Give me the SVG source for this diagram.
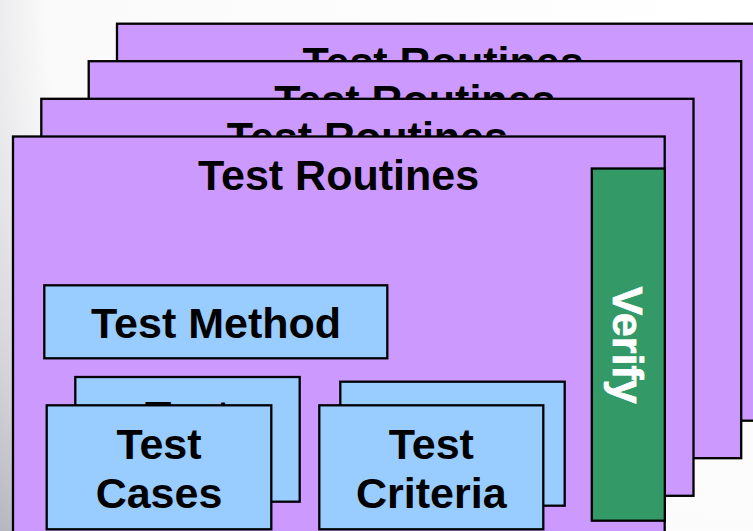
<svg xmlns="http://www.w3.org/2000/svg" width="753" height="531" viewBox="0 0 753 531">
  <defs>
    <radialGradient id="bg" gradientUnits="userSpaceOnUse" cx="753" cy="0" r="930">
      <stop offset="0" stop-color="#ffffff"/>
      <stop offset="0.76" stop-color="#fafafa"/>
      <stop offset="0.9" stop-color="#d3d3d9"/>
      <stop offset="1" stop-color="#b2b4be"/>
    </radialGradient>
  </defs>
  <style>
    .panel { fill: #cc99ff; stroke: #000; stroke-width: 2.3; }
    .box { fill: #99ccff; stroke: #000; stroke-width: 2.3; }
    .verify { fill: #339966; stroke: #000; stroke-width: 2.3; }
    text { font-family: "Liberation Sans", Arial, sans-serif; font-weight: bold; font-size: 43px; text-anchor: middle; fill: #000; }
    text.white { fill: #ffffff; stroke: #ffffff; stroke-width: 0.7; }
  </style>
  <rect x="0" y="0" width="753" height="531" fill="url(#bg)"/>

  <g id="routines-4">
    <rect class="panel" x="117" y="23.7" width="652" height="397"/>
    <text x="443" y="77.2">Test Routines</text>
  </g>
  <g id="routines-3">
    <rect class="panel" x="88.7" y="61.2" width="652.5" height="397"/>
    <text x="414.9" y="114.7">Test Routines</text>
  </g>
  <g id="routines-2">
    <rect class="panel" x="41.3" y="98.8" width="652.2" height="397"/>
    <text x="367.4" y="152.3">Test Routines</text>
  </g>
  <g id="routines-1">
    <rect class="panel" x="13" y="136.5" width="651.7" height="397"/>
    <text x="338.5" y="190">Test Routines</text>
  </g>

  <g id="verify">
    <rect class="verify" x="591.8" y="168.5" width="73" height="352.2"/>
    <text class="white" transform="translate(613,345) rotate(90)" x="0" y="0">Verify</text>
  </g>

  <g id="test-method">
    <rect class="box" x="44.3" y="285.3" width="343" height="73"/>
    <text x="216" y="338.3">Test Method</text>
  </g>

  <g id="test-cases-back">
    <rect class="box" x="75.3" y="377" width="224.4" height="124.7"/>
    <text x="187.5" y="430.7">Test</text>
    <text x="187.5" y="479.7">Cases</text>
  </g>
  <g id="test-cases">
    <rect class="box" x="46.7" y="405.3" width="224.6" height="124"/>
    <text x="159" y="459">Test</text>
    <text x="159" y="508">Cases</text>
  </g>

  <g id="test-criteria-back">
    <rect class="box" x="340.3" y="381.7" width="224.4" height="124"/>
    <text x="452.5" y="435.4">Test</text>
    <text x="452.5" y="484.4">Criteria</text>
  </g>
  <g id="test-criteria">
    <rect class="box" x="319.3" y="405.3" width="224" height="124"/>
    <text x="431.3" y="459">Test</text>
    <text x="431.3" y="508">Criteria</text>
  </g>

  <g id="connectors"/>
</svg>
